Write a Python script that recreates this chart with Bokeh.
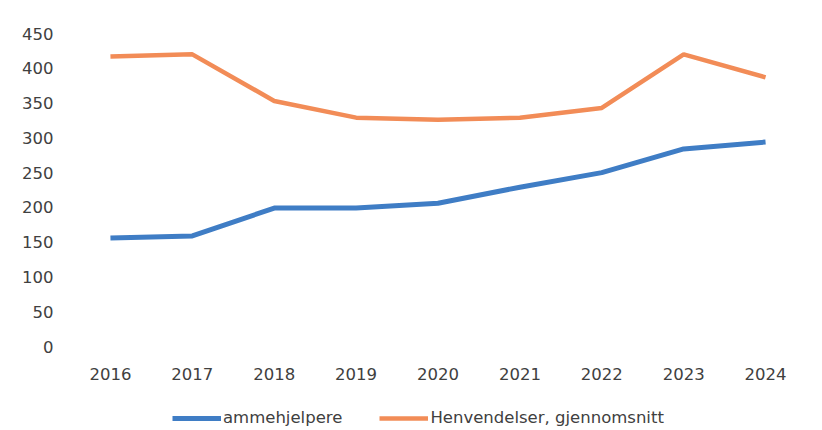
from bokeh.plotting import figure
from bokeh.models import Legend, LegendItem, FixedTicker, Range1d
from bokeh.layouts import column
from bokeh.embed import file_html
from bokeh.resources import INLINE

years = [2016, 2017, 2018, 2019, 2020, 2021, 2022, 2023, 2024]
ammehjelpere = [156, 159, 199, 199, 206, 229, 250, 284, 294]
henvendelser = [417, 420, 353, 329, 326, 329, 343, 420, 387]
y_ticks = [0, 50, 100, 150, 200, 250, 300, 350, 400, 450]
series_names = ["ammehjelpere", "Henvendelser, gjennomsnitt"]

FONT = "DejaVu Sans"
FSIZE = "16.5px"
TXT = "#404040"
BLUE = "#3f7dc5"
ORANGE = "#f28c57"

p = figure(width=822, height=392, output_backend="svg", toolbar_location=None,
           min_border_left=69, min_border_top=33, min_border_right=16, min_border_bottom=46,
           x_range=Range1d(2015.5, 2024.5), y_range=Range1d(0, 450))
p.outline_line_color = None
p.grid.grid_line_color = None

p.line(years, ammehjelpere, line_color=BLUE, line_width=5)
p.line(years, henvendelser, line_color=ORANGE, line_width=4.5)

for ax in (p.xaxis[0], p.yaxis[0]):
    ax.axis_line_color = None
    ax.major_tick_line_color = None
    ax.minor_tick_line_color = None
    ax.major_tick_out = 0
    ax.major_label_text_font = FONT
    ax.major_label_text_font_size = FSIZE
    ax.major_label_text_color = TXT

p.xaxis[0].ticker = FixedTicker(ticks=years)
p.xaxis[0].major_label_standoff = 21
p.yaxis[0].ticker = FixedTicker(ticks=y_ticks)
p.yaxis[0].major_label_standoff = 16

# legend strip below the chart (series drawn out of view; only the legend shows)
lg = figure(width=822, height=38, output_backend="svg", toolbar_location=None,
            x_axis_type=None, y_axis_type=None,
            min_border_left=0, min_border_right=0, min_border_top=0, min_border_bottom=0,
            x_range=Range1d(0, 1), y_range=Range1d(0, 1))
lg.outline_line_color = None
lg.grid.grid_line_color = None
l1 = lg.line(years, ammehjelpere, line_color=BLUE, line_width=5)
l2 = lg.line(years, henvendelser, line_color=ORANGE, line_width=4.5)

legend = Legend(items=[LegendItem(label=series_names[0], renderers=[l1]),
                       LegendItem(label=series_names[1], renderers=[l2])],
                orientation="horizontal", location=(103, 3),
                label_text_font=FONT, label_text_font_size=FSIZE,
                label_text_color=TXT, label_height=18,
                glyph_width=49, glyph_height=18, label_standoff=2, spacing=37,
                border_line_color=None, background_fill_alpha=0,
                margin=0, padding=0)
lg.add_layout(legend, "center")

layout = column(p, lg, spacing=0)
open("out.html", "w").write(file_html(layout, INLINE))
